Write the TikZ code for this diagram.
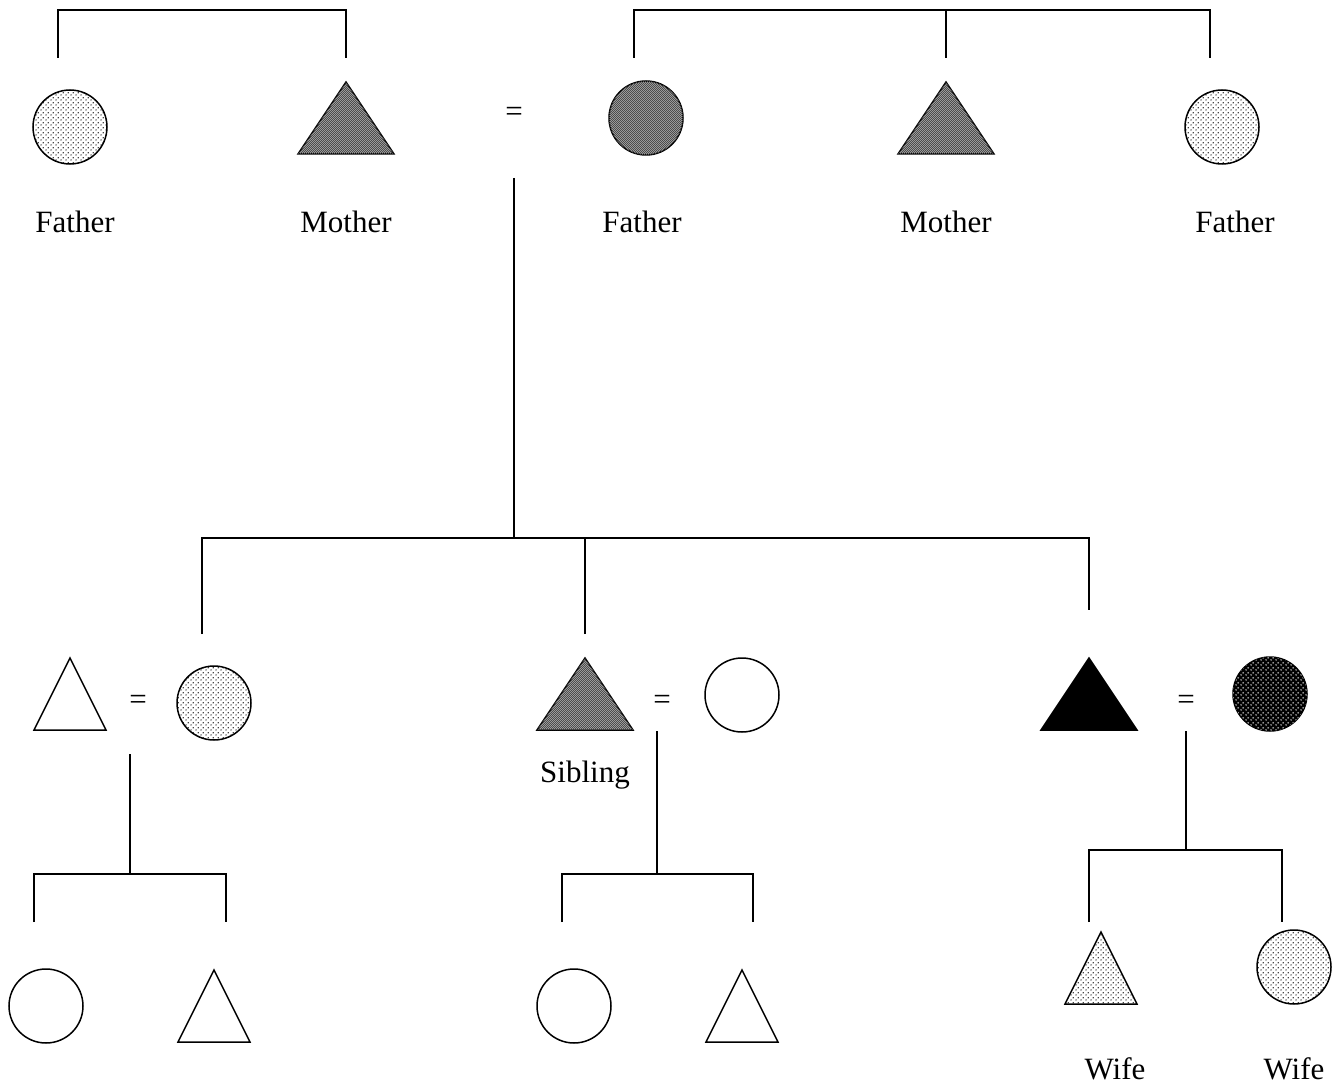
\documentclass[tikz,border=0pt]{standalone}
\usepackage{fontspec}
\setmainfont{Liberation Serif}
\usetikzlibrary{patterns.meta,calc}

% Fill textures for the kin symbols
\tikzdeclarepattern{
  name=sparsedots, type=uncolored,
  bounding box={(0pt,0pt) and (5pt,5pt)},
  tile size={(5pt,5pt)},
  code={\fill (1.25pt,1.25pt) circle (0.8pt); \fill (3.75pt,3.75pt) circle (0.8pt);}
}
\tikzdeclarepattern{
  name=bigdots, type=uncolored,
  bounding box={(0pt,0pt) and (5pt,5pt)},
  tile size={(5pt,5pt)},
  code={\fill (1.25pt,1.25pt) circle (1pt); \fill (3.75pt,3.75pt) circle (1pt);}
}
\tikzdeclarepattern{
  name=finechecker, type=uncolored,
  bounding box={(0pt,0pt) and (2.4pt,2.4pt)},
  tile size={(2.4pt,2.4pt)},
  code={\fill (0pt,0pt) rectangle (1.2pt,1.2pt); \fill (1.2pt,1.2pt) rectangle (2.4pt,2.4pt);}
}

\tikzset{
  kin/.style={line width=1.5pt, draw=black},
  light/.style={kin, pattern={sparsedots}, pattern color=black},
  medium/.style={kin, fill=black!35, postaction={pattern={finechecker}, pattern color=black!70}},
  darkfill/.style={kin, fill=black, postaction={pattern={bigdots}, pattern color=white!80!black}},
  solid fill/.style={kin, fill=black},
  plain/.style={kin, fill=white},
  female/.style={circle, minimum size=74pt, inner sep=0pt},
  link/.style={line width=1.5pt},
  label/.style={font=\fontsize{31}{36}\selectfont, inner sep=0pt},
  eq/.style={font=\fontsize{31}{36}\selectfont, inner sep=0pt}
}
% triangle (male) centred at #2, named #3: half-width 48, height 72
\newcommand\maletri[3][]{%
  \draw[#1] ($(#2)+(0,-36)$) -- ($(#2)+(48,36)$) -- ($(#2)+(-48,36)$) -- cycle;
  \coordinate (#3) at (#2);}
% narrower triangle: half-width 36, height 72
\newcommand\smalltri[3][]{%
  \draw[#1] ($(#2)+(0,-36)$) -- ($(#2)+(36,36)$) -- ($(#2)+(-36,36)$) -- cycle;
  \coordinate (#3) at (#2);}

\begin{document}
\begin{tikzpicture}[x=1pt, y=-1pt]
\useasboundingbox (0,0) rectangle (1341,1086);

% ---------- parents' generation ----------
\node[female, light] (f1) at (70,127) {};
\maletri[medium]{346,118}{m1}
\node[eq] (eq0) at (514,114) {=};
\node[female, medium] (f2) at (646,118) {};
\maletri[medium]{946,118}{m2}
\node[female, light] (f3) at (1222,127) {};

\node[label] (lf1) at (75,222) {Father};
\node[label] (lm1) at (346,222) {Mother};
\node[label] (lf2) at (642,222) {Father};
\node[label] (lm2) at (946,222) {Mother};
\node[label] (lf3) at (1235,222) {Father};

% sibling brackets above
\coordinate (a1) at (58,58);   \coordinate (a2) at (346,58);
\draw[link] (a1) |- (346,10) -- (a2);
\coordinate (b1) at (634,58);  \coordinate (b2) at (946,58);  \coordinate (b3) at (1210,58);
\draw[link] (b1) |- (1210,10) -- (b3);
\draw[link] (b2) -- (946,10);

% descent from the marriage
\coordinate (d0) at (514,178);
\coordinate (d1) at (514,538);
\draw[link] (d0) -- (d1);
\coordinate (c1) at (202,634); \coordinate (c2) at (585,634); \coordinate (c3) at (1089,610);
\draw[link] (c1) |- (1089,538) -- (c3);
\draw[link] (c2) -- (585,538);

% ---------- children's generation ----------
\smalltri[plain]{70,694}{s1}
\node[eq] (eq1) at (138,702) {=};
\node[female, light] (w1) at (214,703) {};

\maletri[medium]{585,694}{s2}
\node[eq] (eq2) at (662,702) {=};
\node[female, plain] (w2) at (742,695) {};
\node[label] (sib) at (585,775) {Sibling};

\maletri[solid fill]{1089,694}{s3}
\node[eq] (eq3) at (1186,702) {=};
\node[female, darkfill] (w3) at (1270,694) {};

% ---------- grandchildren ----------
\coordinate (g1) at (130,754);
\draw[link] (g1) -- (130,874);
\coordinate (g1a) at (34,922); \coordinate (g1b) at (226,922);
\draw[link] (g1a) |- (226,874) -- (g1b);

\coordinate (g2) at (657,731);
\draw[link] (g2) -- (657,874);
\coordinate (g2a) at (562,922); \coordinate (g2b) at (753,922);
\draw[link] (g2a) |- (753,874) -- (g2b);

\coordinate (g3) at (1186,731);
\draw[link] (g3) -- (1186,850);
\coordinate (g3a) at (1089,922); \coordinate (g3b) at (1282,922);
\draw[link] (g3a) |- (1282,850) -- (g3b);

\node[female, plain] (k1) at (46,1006) {};
\smalltri[plain]{214,1006}{k2}
\node[female, plain] (k3) at (574,1006) {};
\smalltri[plain]{742,1006}{k4}
\smalltri[light]{1101,968}{k5}
\node[female, light] (k6) at (1294,967) {};

\node[label] (wf1) at (1115,1069) {Wife};
\node[label] (wf2) at (1294,1069) {Wife};
\end{tikzpicture}
\end{document}
